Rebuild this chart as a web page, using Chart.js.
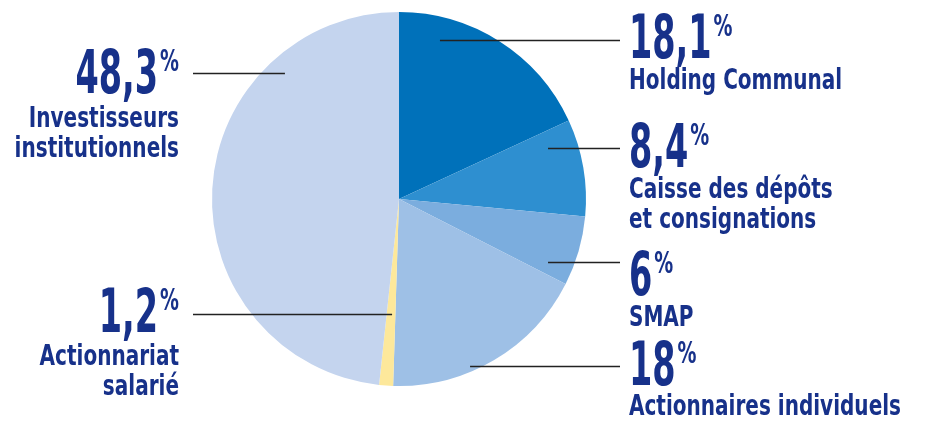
<!DOCTYPE html>
<html>
<head>
<meta charset="utf-8">
<script src="https://cdn.jsdelivr.net/npm/chart.js@4"></script>
<style>
html,body{margin:0;padding:0;background:#fff;}
#c{display:block;}
</style>
</head>
<body>
<canvas id="c" width="931" height="421"></canvas>
<script>
// ---- data ----
const categories = ['Holding Communal', 'Caisse des dépôts|et consignations', 'SMAP', 'Actionnaires individuels', 'Actionnariat|salarié', 'Investisseurs|institutionnels'];
const shares = [18.1, 8.4, 6, 18, 1.2, 48.3];
const percentSign = '%';

// ---- styles / layout ----
const sliceColors = ['#0071ba', '#2e8fd0', '#7badde', '#9ec0e6', '#fde89b', '#c4d4ee'];
const textColor = '#17318a';
const fontFamily = "'DejaVu Sans Condensed', 'DejaVu Sans', sans-serif";
const bigScale = 0.62, nameScale = 0.795, pctScale = 0.70;
// label layout: side, anchor x, big-number baseline, first name baseline, leader y, leader outer x, inner point (fraction of radius from centre)
const labelLayout = [
  {side:'r', x:629, big:58,  name:89,  ly:40,  lx:620, ix:0.219,  iy:-0.850},
  {side:'r', x:629, big:167, name:198, ly:148, lx:620, ix:0.797,  iy:-0.273},
  {side:'r', x:629, big:295, name:326, ly:262, lx:620, ix:0.797,  iy:0.337},
  {side:'r', x:629, big:385, name:415, ly:366, lx:620, ix:0.380,  iy:0.893},
  {side:'l', x:179, big:332, name:365, ly:314, lx:193, ix:-0.037, iy:0.615},
  {side:'l', x:179, big:93,  name:127, ly:73,  lx:193, ix:-0.610, iy:-0.674}
];
const nameLineGap = 30;

function drawScaled(ctx, text, x, y, sx, font, align) {
  ctx.font = font;
  const w = ctx.measureText(text).width * sx;
  const left = align === 'right' ? x - w : x;
  ctx.save();
  ctx.translate(left, y);
  ctx.scale(sx, 1);
  ctx.textAlign = 'left';
  ctx.fillText(text, 0, 0);
  ctx.restore();
  return w;
}

const labelPlugin = {
  id: 'labels',
  afterDraw(chart) {
    const ctx = chart.ctx;
    const arc = chart.getDatasetMeta(0).data[0];
    const cx = arc.x, R = arc.outerRadius;
    ctx.save();
    shares.forEach((v, i) => {
      const L = labelLayout[i];
      ctx.strokeStyle = '#222';
      ctx.lineWidth = 1.3;
      ctx.beginPath();
      ctx.moveTo(cx + L.ix * R, L.ly + 0.5);
      ctx.lineTo(L.lx, L.ly + 0.5);
      ctx.stroke();

      ctx.fillStyle = textColor;
      ctx.textBaseline = 'alphabetic';
      const num = String(v).replace('.', ',');
      const bigFont = 'bold 60px ' + fontFamily;
      const pctFont = 'bold 30px ' + fontFamily;
      ctx.font = bigFont;
      const numW = ctx.measureText(num).width * bigScale;
      ctx.font = pctFont;
      const pctW = ctx.measureText(percentSign).width * pctScale;
      const gap = 2;
      const startX = L.side === 'r' ? L.x : L.x - (numW + gap + pctW);
      drawScaled(ctx, num, startX, L.big, bigScale, bigFont, 'left');
      drawScaled(ctx, percentSign, startX + numW + gap, L.big - 22, pctScale, pctFont, 'left');

      const nameFont = 'bold 28px ' + fontFamily;
      categories[i].split('|').forEach((line, k) => {
        drawScaled(ctx, line, L.x, L.name + k * nameLineGap, nameScale, nameFont, L.side === 'r' ? 'left' : 'right');
      });
    });
    ctx.restore();
  }
};

new Chart(document.getElementById('c'), {
  type: 'pie',
  data: {
    labels: categories.map(c => c.replace('|', ' ')),
    datasets: [{
      data: shares,
      backgroundColor: sliceColors,
      borderWidth: 0
    }]
  },
  options: {
    responsive: false,
    animation: false,
    layout: { padding: { left: 212, right: 345, top: 12, bottom: 35 } },
    plugins: { legend: { display: false }, tooltip: { enabled: false } }
  },
  plugins: [labelPlugin]
});
</script>
</body>
</html>
